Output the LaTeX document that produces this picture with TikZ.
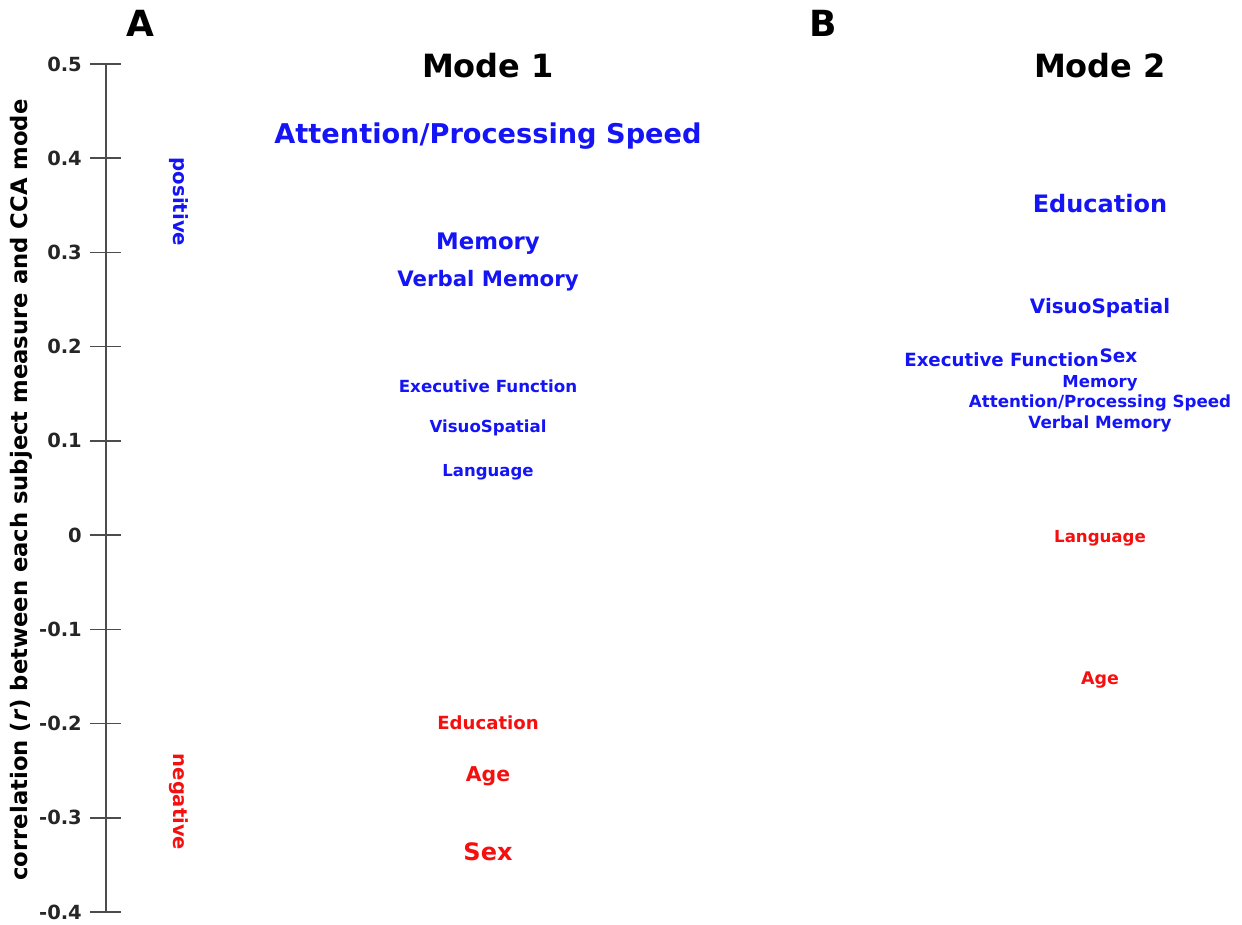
\documentclass[tikz,border=0pt]{standalone}
\usepackage{fontspec}
\setmainfont{DejaVu Sans}
\definecolor{pblue}{RGB}{20,20,245}
\definecolor{nred}{RGB}{245,15,15}
\newcommand\fsz[1]{\fontsize{#1}{#1}\selectfont}
\tikzset{
  lbl/.style={inner sep=0pt, font=\bfseries},
  poslbl/.style={lbl, text=pblue},
  neglbl/.style={lbl, text=nred},
  tickln/.style={draw=black!70, line width=1.6pt},
  ticklbl/.style={lbl, anchor=east, text=black!85, font=\bfseries\fsz{19.5}},
}
\begin{document}
\begin{tikzpicture}[x=1pt,y=-1pt]
\useasboundingbox (0,0) rectangle (1242,925);
% axis
\coordinate (top) at (106,64);
\coordinate (bot) at (106,912);
\draw[tickln] (top) -- (bot);
\foreach \lab [count=\i from 0] in {0.5,0.4,0.3,0.2,0.1,0,-0.1,-0.2,-0.3,-0.4}{
  \pgfmathsetmacro{\yy}{64+\i*94.22}
  \coordinate (tl\i) at (90,\yy);
  \coordinate (tr\i) at (121,\yy);
  \draw[tickln] (tl\i) -- (tr\i);
  \node[ticklbl] (tv\i) at (82,\yy) {\lab};
}
\node[lbl, rotate=90, font=\bfseries\fsz{22.7}] (ylab) at (21,490) {correlation (\textit{r}) between each subject measure and CCA mode};
\node[lbl, font=\bfseries\fsz{36}] (A) at (140,23) {A};
\node[lbl, font=\bfseries\fsz{36}] (B) at (823,23) {B};
\node[lbl, font=\bfseries\fsz{32}] (m1) at (488,66) {Mode 1};
\node[lbl, font=\bfseries\fsz{32}] (m2) at (1100,66) {Mode 2};
\node[poslbl, rotate=-90, font=\bfseries\fsz{19.7}] (posi) at (179,202) {positive};
\node[neglbl, rotate=-90, font=\bfseries\fsz{19.5}] (nega) at (179,802) {negative};
% Mode 1
\node[poslbl, font=\bfseries\fsz{27.2}] (a1) at (488,136) {Attention/Processing Speed};
\node[poslbl, font=\bfseries\fsz{22.8}] (a2) at (488,244) {Memory};
\node[poslbl, font=\bfseries\fsz{21.3}] (a3) at (488,281) {Verbal Memory};
\node[poslbl, font=\bfseries\fsz{16.7}] (a4) at (488,386) {Executive Function};
\node[poslbl, font=\bfseries\fsz{16.6}] (a5) at (488,428) {VisuoSpatial};
\node[poslbl, font=\bfseries\fsz{16.5}] (a6) at (488,472) {Language};
\node[neglbl, font=\bfseries\fsz{18.1}] (a7) at (488,723) {Education};
\node[neglbl, font=\bfseries\fsz{20.4}] (a8) at (488,776) {Age};
\node[neglbl, font=\bfseries\fsz{24}] (a9) at (488,852) {Sex};
% Mode 2
\node[poslbl, font=\bfseries\fsz{24}] (b1) at (1100,204) {Education};
\node[poslbl, font=\bfseries\fsz{19.9}] (b2) at (1100,308) {VisuoSpatial};
\node[poslbl, font=\bfseries\fsz{18.2}] (b3) at (1001.5,360) {Executive Function};
\node[poslbl, font=\bfseries\fsz{18.5}] (b4) at (1118.5,356) {Sex};
\node[poslbl, font=\bfseries\fsz{16.5}] (b5) at (1100,383) {Memory};
\node[poslbl, font=\bfseries\fsz{16.7}] (b6) at (1100,403) {Attention/Processing Speed};
\node[poslbl, font=\bfseries\fsz{16.8}] (b7) at (1100,424) {Verbal Memory};
\node[neglbl, font=\bfseries\fsz{16.6}] (b8) at (1100,538) {Language};
\node[neglbl, font=\bfseries\fsz{17.4}] (b9) at (1100,680) {Age};
\end{tikzpicture}
\end{document}
